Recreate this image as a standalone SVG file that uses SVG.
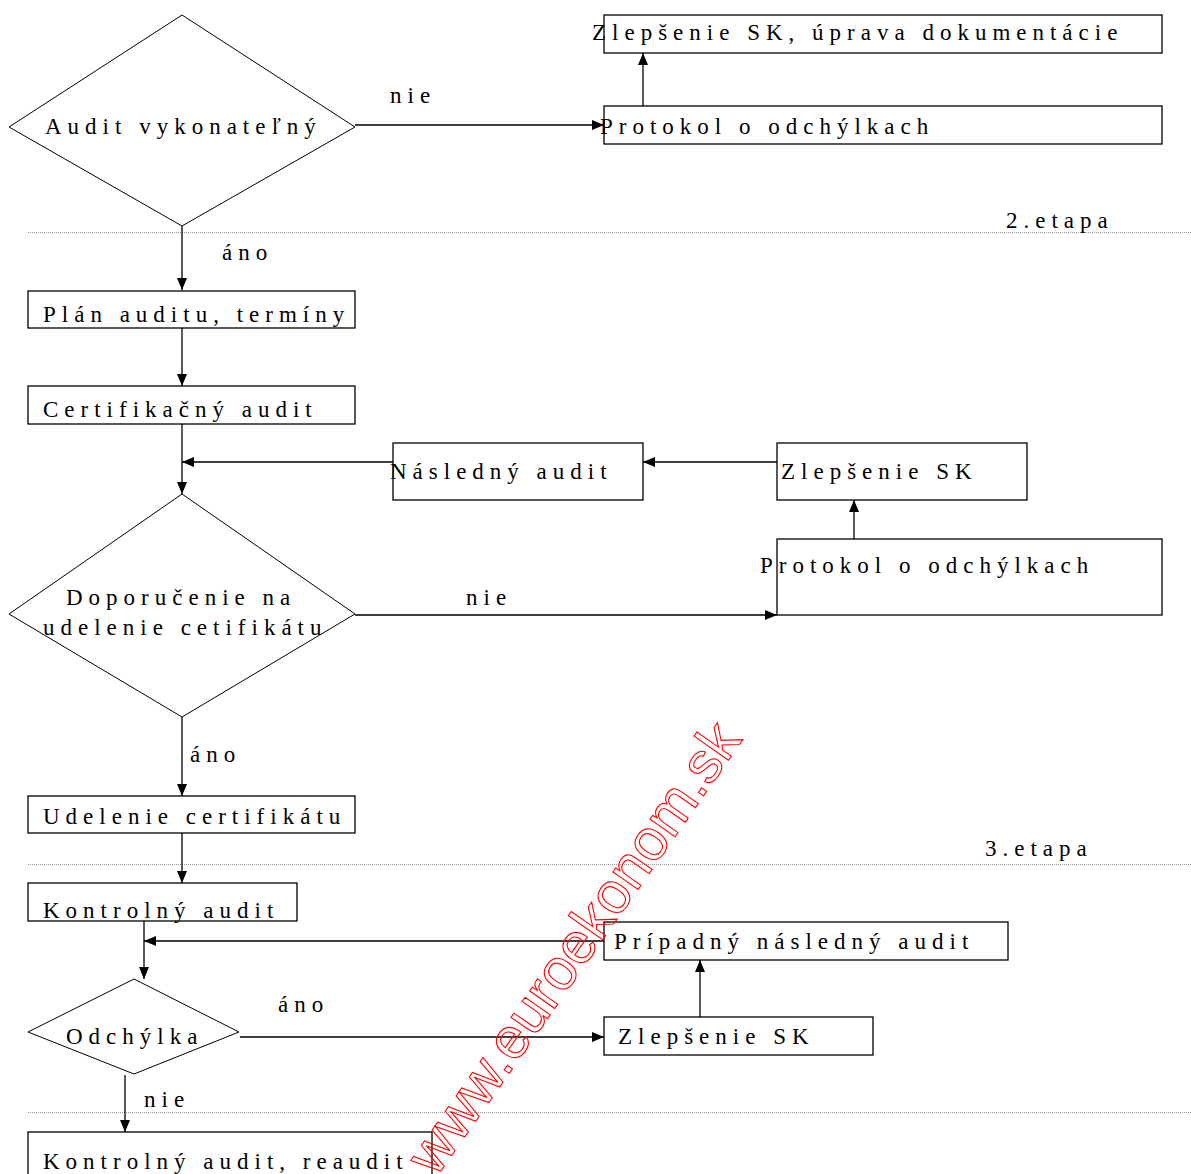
<svg xmlns="http://www.w3.org/2000/svg" width="1191" height="1174" viewBox="0 0 1191 1174">
<style>
.t{font-family:"Liberation Serif","Times New Roman",serif;font-size:23px;letter-spacing:6px;fill:#000}
.b{fill:#fff;stroke:#000;stroke-width:1.3}
.d{fill:#fff;stroke:#000;stroke-width:1}
.c{fill:none;stroke:#000;stroke-width:1.3}
.sep{stroke:#999;stroke-width:1;stroke-dasharray:1 1}
.wm{font-family:"Liberation Sans",Arial,sans-serif;font-size:58px;fill:none;stroke:#f00;stroke-width:1.1}
</style>
<defs>
<marker id="ah" markerUnits="userSpaceOnUse" markerWidth="13" markerHeight="10" refX="12" refY="5" orient="auto">
<path d="M0,0 L12,5 L0,10 z" fill="#000"/>
</marker>
</defs>
<rect width="1191" height="1174" fill="#fff"/>
<g id="separators">
<line class="sep" x1="28" y1="232.5" x2="1191" y2="232.5"/>
<line class="sep" x1="28" y1="864.5" x2="1191" y2="864.5"/>
<line class="sep" x1="28" y1="1112.5" x2="1191" y2="1112.5"/>
<text class="t" x="1006" y="228">2.etapa</text>
<text class="t" x="985" y="856">3.etapa</text>
</g>
<g id="n1"><polygon class="d" points="9,127 182,15 355,127 182,226"/><text class="t" x="45" y="134">Audit vykonateľný</text></g>
<g id="n2"><rect class="b" x="604" y="15" width="558" height="38"/><text class="t" x="592" y="40">Zlepšenie SK, úprava dokumentácie</text></g>
<g id="n3"><rect class="b" x="604" y="106" width="558" height="38"/><text class="t" x="600" y="134">Protokol o odchýlkach</text></g>
<g id="n4"><rect class="b" x="28" y="291" width="327" height="37"/><text class="t" x="43" y="322">Plán auditu, termíny</text></g>
<g id="n5"><rect class="b" x="28" y="386" width="327" height="38"/><text class="t" x="43" y="417">Certifikačný audit</text></g>
<g id="n6"><rect class="b" x="393" y="443" width="250" height="57"/><text class="t" x="390" y="479">Následný audit</text></g>
<g id="n7"><rect class="b" x="777" y="443" width="250" height="57"/><text class="t" x="781" y="479">Zlepšenie SK</text></g>
<g id="n8"><rect class="b" x="777" y="539" width="385" height="76"/><text class="t" x="760" y="573">Protokol o odchýlkach</text></g>
<g id="n9"><polygon class="d" points="9,614 182,494 355,614 182,717"/><text class="t" x="66" y="605">Doporučenie na</text><text class="t" x="43" y="635">udelenie cetifikátu</text></g>
<g id="n10"><rect class="b" x="28" y="796" width="327" height="37"/><text class="t" x="43" y="824">Udelenie certifikátu</text></g>
<g id="n11"><rect class="b" x="28" y="883" width="269" height="38"/><text class="t" x="43" y="918">Kontrolný audit</text></g>
<g id="n12"><rect class="b" x="604" y="922" width="404" height="38"/><text class="t" x="614" y="949">Prípadný následný audit</text></g>
<g id="n13"><polygon class="d" points="28,1032 134,979 239,1032 134,1074"/><text class="t" x="66" y="1044">Odchýlka</text></g>
<g id="n14"><rect class="b" x="604" y="1017" width="269" height="38"/><text class="t" x="618" y="1044">Zlepšenie SK</text></g>
<g id="n15"><rect class="b" x="28" y="1132" width="404" height="44"/><text class="t" x="43" y="1169">Kontrolný audit, reaudit</text></g>
<g id="connectors">
<path class="c" marker-end="url(#ah)" d="M355,125 H604"/>
<path class="c" marker-end="url(#ah)" d="M643,106 V53"/>
<path class="c" marker-end="url(#ah)" d="M182,226 V290"/>
<path class="c" marker-end="url(#ah)" d="M182,328 V386"/>
<path class="c" marker-end="url(#ah)" d="M182,424 V494"/>
<path class="c" marker-end="url(#ah)" d="M393,462 H182"/>
<path class="c" marker-end="url(#ah)" d="M777,462 H643"/>
<path class="c" marker-end="url(#ah)" d="M854,539 V500"/>
<path class="c" marker-end="url(#ah)" d="M355,615 H777"/>
<path class="c" marker-end="url(#ah)" d="M182,717 V796"/>
<path class="c" marker-end="url(#ah)" d="M182,833 V883"/>
<path class="c" marker-end="url(#ah)" d="M144,921 V979"/>
<path class="c" marker-end="url(#ah)" d="M604,941 H144"/>
<path class="c" marker-end="url(#ah)" d="M700,1017 V960"/>
<path class="c" marker-end="url(#ah)" d="M240,1037 H604"/>
<path class="c" marker-end="url(#ah)" d="M125,1075 V1132"/>
<text class="t" x="390" y="103">nie</text>
<text class="t" x="222" y="260">áno</text>
<text class="t" x="466" y="605">nie</text>
<text class="t" x="190" y="762">áno</text>
<text class="t" x="278" y="1012">áno</text>
<text class="t" x="144" y="1107">nie</text>
</g>
<text class="wm" x="436" y="1178" transform="rotate(-55 436 1178)">www.euroekonom.sk</text>
</svg>
